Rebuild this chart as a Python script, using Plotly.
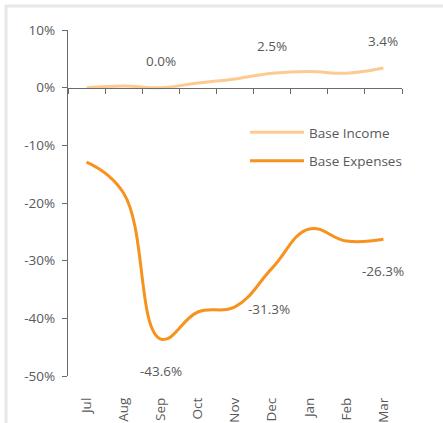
import plotly.graph_objects as go

months = ["Jul", "Aug", "Sep", "Oct", "Nov", "Dec", "Jan", "Feb", "Mar"]
base_income = [0.0, 0.3, 0.0, 0.8, 1.5, 2.5, 2.8, 2.5, 3.4]
base_expenses = [-12.9, -18.3, -43.6, -38.9, -38.0, -31.3, -24.5, -26.6, -26.3]
y_ticks = [10, 0, -10, -20, -30, -40, -50]

income_labels = ["Sep", "Dec", "Mar"]
expense_labels = ["Sep", "Dec", "Mar"]

INCOME_COLOR = "#FDCA92"
EXPENSE_COLOR = "#F7921E"
TEXT = "#595959"
AXIS = "#6b6b6b"
FONT = "Open Sans"
FS = 13.5

W, H = 443, 423
ML, MR, MT, MB = 68, 41, 30, 47

fig = go.Figure()
fig.add_trace(go.Scatter(
    x=months, y=base_income, mode="lines", name="Base Income",
    line=dict(color=INCOME_COLOR, width=3, shape="spline", smoothing=1.2),
    legendgroup="a", hoverinfo="skip"))
fig.add_trace(go.Scatter(
    x=months, y=base_expenses, mode="lines", name="Base Expenses",
    line=dict(color=EXPENSE_COLOR, width=3, shape="spline", smoothing=1.2),
    legendgroup="b", hoverinfo="skip"))

# data labels
for m in income_labels:
    v = base_income[months.index(m)]
    fig.add_annotation(x=m, y=v, text=f"{v:.1f}%", showarrow=False, yshift=27,
                       font=dict(family=FONT, size=FS, color=TEXT))
for m in expense_labels:
    v = base_expenses[months.index(m)]
    shift = -41 if m == "Dec" else -32
    xs = -3 if m == "Dec" else 0
    fig.add_annotation(x=m, y=v, text=f"{v:.1f}%", showarrow=False, yshift=shift, xshift=xs,
                       font=dict(family=FONT, size=FS, color=TEXT))

ymin, ymax = min(y_ticks), max(y_ticks)
zero_pos = (0 - ymin) / (ymax - ymin)

pw = W - ML - MR
ph = H - MT - MB
def px(x):
    return (x - ML) / pw
def py(y):
    return (H - MB - y) / ph

# outer frame (left and top edges)
fig.add_shape(type="line", xref="paper", yref="paper", x0=px(6), x1=px(6), y0=py(5), y1=py(430),
              line=dict(color="#e8e8e8", width=3))
fig.add_shape(type="line", xref="paper", yref="paper", x0=px(5), x1=px(450), y0=py(6), y1=py(6),
              line=dict(color="#e8e8e8", width=3))

fig.update_layout(
    width=W, height=H,
    margin=dict(l=ML, r=MR, t=MT, b=MB, autoexpand=False),
    paper_bgcolor="white", plot_bgcolor="white",
    font=dict(family=FONT, size=FS, color=TEXT),
    showlegend=True,
    legend=dict(x=px(245), y=py(117), xanchor="left", yanchor="top",
                bgcolor="rgba(0,0,0,0)", font=dict(family=FONT, size=FS, color=TEXT),
                itemwidth=54, tracegroupgap=8, traceorder="grouped"),
    xaxis=dict(type="category", range=[-0.5, len(months) - 0.5],
               anchor="free", position=zero_pos,
               showline=True, linecolor=AXIS, linewidth=1.3,
               ticks="outside", tickson="boundaries", ticklen=5, tickcolor=AXIS, tickwidth=1.3,
               showticklabels=False, showgrid=False, zeroline=False),
    xaxis2=dict(overlaying="x", anchor="y", side="bottom",
                range=[-0.5, len(months) - 0.5],
                tickmode="array", tickvals=list(range(len(months))), ticktext=months,
                tickangle=-90, ticks="", showline=False, showgrid=False, zeroline=False,
                ticklabelstandoff=18,
                tickfont=dict(family=FONT, size=FS, color=TEXT)),
    yaxis=dict(range=[ymin, ymax], tickmode="array", tickvals=y_ticks,
               ticktext=[f"{t}%" for t in y_ticks],
               showline=True, linecolor=AXIS, linewidth=1.3,
               ticks="outside", ticklen=5, tickcolor=AXIS, tickwidth=1.3,
               ticklabelstandoff=4,
               showgrid=False, zeroline=False,
               tickfont=dict(family=FONT, size=FS, color=TEXT)),
)
# invisible helper trace so the bottom label axis is drawn
fig.add_trace(go.Scatter(x=[0], y=[0], xaxis="x2", mode="markers",
                         marker=dict(opacity=0), showlegend=False, hoverinfo="skip"))

fig.write_html("out.html", config={"displayModeBar": False},
               post_script="document.body.style.margin='0';document.body.style.overflow='hidden';")
